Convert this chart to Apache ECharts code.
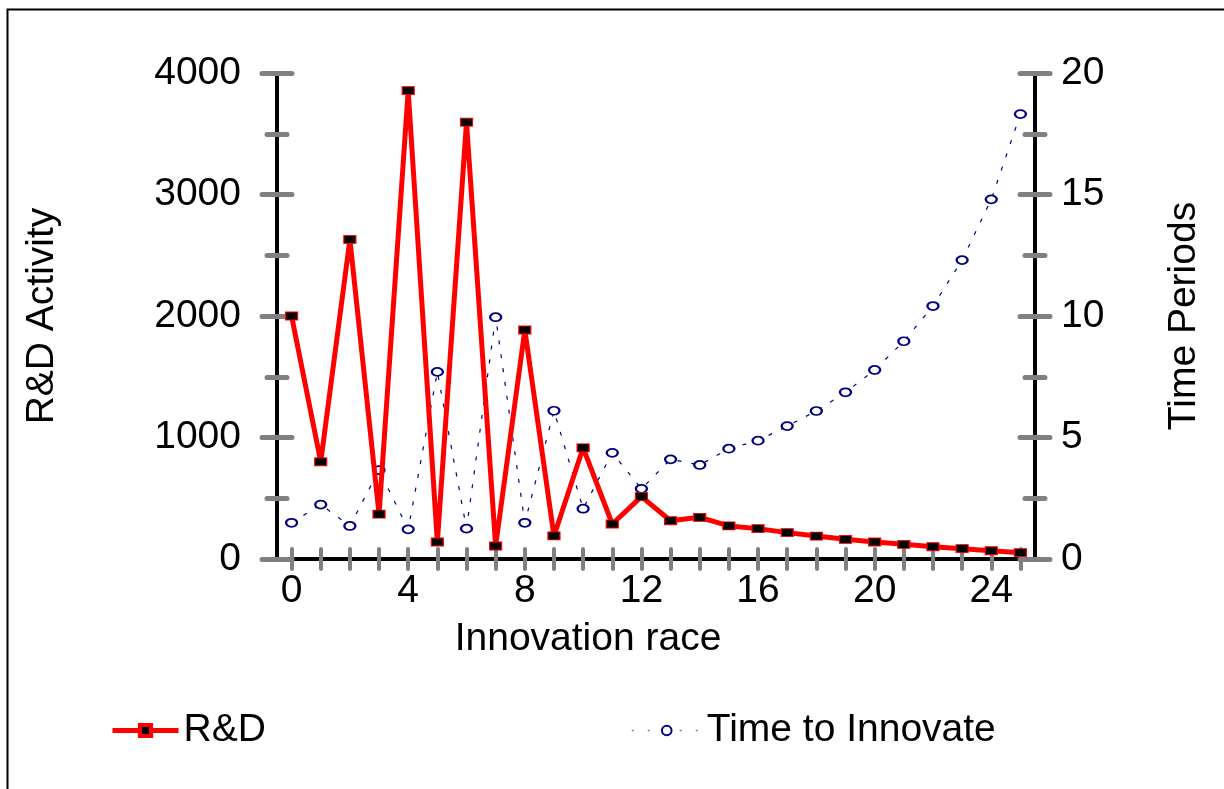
<!DOCTYPE html>
<html>
<head>
<meta charset="utf-8">
<script src="https://cdn.jsdelivr.net/npm/echarts@6/dist/echarts.min.js"></script>
<style>
html,body{margin:0;padding:0;background:#fff;}
#chart{width:1224px;height:789px;}
</style>
</head>
<body>
<div id="chart"></div>
<script>
const categories = ['0','1','2','3','4','5','6','7','8','9','10','11','12','13','14','15','16','17','18','19','20','21','22','23','24','25'];
const rdActivity = [2000, 800, 2630, 370, 3855, 140, 3595, 107, 1885, 190, 915, 288, 513, 315, 343, 272, 250, 217, 189, 162, 140, 121, 101, 85, 68, 52];
const timeToInnovate = [1.49, 2.24, 1.36, 3.66, 1.22, 7.70, 1.25, 9.95, 1.49, 6.10, 2.07, 4.37, 2.89, 4.10, 3.87, 4.54, 4.87, 5.47, 6.09, 6.86, 7.78, 8.96, 10.41, 12.30, 14.80, 18.31];
const leftTicks = {min: 0, max: 4000, interval: 1000};
const rightTicks = {min: 0, max: 20, interval: 5};

const FONT = '"Liberation Sans", Arial, sans-serif';
const FS = 39;
const tickGray = '#808080';
const NAVY = '#000080';

const chart = echarts.init(document.getElementById('chart'), null, {renderer: 'canvas'});

function xAxisDef(primary) {
  return {
    type: 'category',
    data: categories,
    position: 'bottom',
    boundaryGap: true,
    axisLine: {show: primary, lineStyle: {color: '#000', width: 4}},
    axisTick: {show: true, alignWithLabel: true, interval: 0, inside: !primary, length: 10,
      lineStyle: {color: tickGray, width: 4, cap: 'round'}},
    axisLabel: {show: primary, interval: 3, margin: 13, color: '#000', fontSize: FS, fontFamily: FONT},
    splitLine: {show: false},
    name: primary ? 'Innovation race' : '',
    nameLocation: 'middle',
    nameGap: 61,
    nameTextStyle: {color: '#000', fontSize: FS, fontFamily: FONT, padding: [0, 136, 0, 0]}
  };
}

function yAxisDef(primary, pos, t, name) {
  return {
    type: 'value',
    position: pos,
    min: t.min, max: t.max, interval: t.interval,
    axisLine: {show: primary, lineStyle: {color: '#000', width: 4}},
    axisTick: {show: true, inside: !primary, length: 15, lineStyle: {color: tickGray, width: 5, cap: 'round'}},
    minorTick: {show: true, splitNumber: 2, length: 10, lineStyle: {color: tickGray, width: 5, cap: 'round'}},
    axisLabel: {show: primary, margin: pos === 'left' ? 36 : 26, color: '#000', fontSize: FS, fontFamily: FONT,
      formatter: function (v) { return String(v); }},
    splitLine: {show: false},
    minorSplitLine: {show: false},
    name: primary ? name : '',
    nameLocation: 'middle',
    nameGap: pos === 'left' ? 215 : 130,
    nameTextStyle: {color: '#000', fontSize: FS, fontFamily: FONT}
  };
}

const option = {
  animation: false,
  backgroundColor: '#fff',
  grid: {left: 277, right: 189, top: 73, bottom: 230, containLabel: false},
  xAxis: [xAxisDef(true), xAxisDef(false)],
  yAxis: [
    yAxisDef(true, 'left', leftTicks, 'R&D Activity'),
    yAxisDef(true, 'right', rightTicks, 'Time Periods'),
    yAxisDef(false, 'left', leftTicks, ''),
    yAxisDef(false, 'right', rightTicks, '')
  ],
  legend: [
    {
      left: 110, top: 711, padding: 0, itemWidth: 66, itemHeight: 14,
      textStyle: {color: '#000', fontSize: FS, fontFamily: FONT},
      data: [{name: 'R&D', itemStyle: {color: '#000', borderColor: '#ff0000', borderWidth: 4},
              lineStyle: {color: '#ff0000', width: 5}}]
    },
    {
      left: 631, top: 711, padding: 0, itemWidth: 70, itemHeight: 12,
      textStyle: {color: '#000', fontSize: FS, fontFamily: FONT},
      data: [{name: 'Time to Innovate', itemStyle: {color: NAVY, borderColor: NAVY, borderWidth: 3},
              lineStyle: {color: '#7777bb', width: 1.5, type: [2, 14]}}]
    }
  ],
  series: [
    {
      name: 'Time to Innovate',
      type: 'line',
      xAxisIndex: 0, yAxisIndex: 1,
      data: timeToInnovate,
      symbol: 'emptyCircle',
      symbolSize: [11, 8],
      showAllSymbol: true,
      itemStyle: {color: NAVY, borderColor: NAVY, borderWidth: 1.2},
      lineStyle: {color: NAVY, width: 1.2, type: [4, 10]},
      z: 2
    },
    {
      name: 'R&D',
      type: 'line',
      xAxisIndex: 0, yAxisIndex: 0,
      data: rdActivity,
      symbol: 'rect',
      symbolSize: [12, 8],
      showAllSymbol: true,
      itemStyle: {color: '#000', borderColor: '#ff0000', borderWidth: 1},
      lineStyle: {color: '#ff0000', width: 5},
      z: 3
    }
  ],
  graphic: [
    {type: 'rect', left: 5, top: 7, z: -1, silent: true,
     shape: {x: 0, y: 0, width: 1300, height: 900},
     style: {fill: null, stroke: '#000', lineWidth: 2}}
  ]
};
chart.setOption(option);
</script>
</body>
</html>
